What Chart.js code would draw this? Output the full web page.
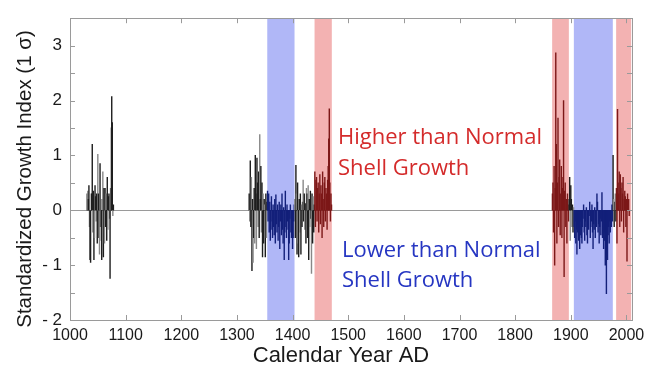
<!DOCTYPE html>
<html>
<head>
<meta charset="utf-8">
<script src="https://cdn.jsdelivr.net/npm/chart.js@4/dist/chart.umd.min.js"></script>
<style>
  html, body { margin: 0; padding: 0; background: #fff; }
  #wrap { width: 654px; height: 374px; }
</style>
</head>
<body>
<div id="wrap"><canvas id="c" width="654" height="374"></canvas></div>
<script>
// --- data (standardized growth index, one value per year) ---
const seg1Start = 1031;
const seg1Values = [0.3, 0.35, 0.2, 0.45, -0.3, -0.9, -0.95, 0.3, 0.3, 1.2, -0.4, 0.35, -0.9, -0.5, 0.45,
  0.25, -0.2, 0.3, -0.6, 1.02, 0.3, -0.5, -0.8, 0.85, -0.3, -0.55, -0.9, 0.2, 0.7, -0.85,
  0.4, -0.6, 0.4, -0.3, 0.3, -0.55, 0.6, -0.35, 0.25, 0.3, -0.15, -1.24, 0.4, 1.5, 2.07,
  1.6, -0.1, 0.1];

const seg2Start = 1322;
const seg2Values = [0.3, -0.2, 0.9, -0.3, 0.6, -1.1, 0.2, -0.95, -0.5, 0.4, -0.6, 1.0, 0.3, -0.7, 0.95,
  0.5, -0.3, 0.7, -0.5, 1.38, 0.2, 0.8, -0.4, 0.5, -0.85, 0.3, -0.6, 0.2, 0.1, -0.85,
  0.3, -0.5, 0.15,
  // 1355 - 1403
  0.35, -0.2, 0.3, -0.4, 0.15, -0.55, -0.2, 0.25, -0.35, -0.5, 0.1, -0.3, -0.45, 0.2, -0.6,
  0.28, -0.25, -0.4, 0.1, -0.55, -0.3, 0.15, -0.7, -0.2, 0.1, -0.45, 0.3, -0.35, -0.6, 0.05,
  -0.9, -0.4, 0.35, -0.3, -0.5, 0.1, -0.2, -0.35, -0.9, -0.6, -0.15, 0.1, -0.4, -0.5, -0.3,
  -0.7, -0.5, -0.2, 0.1,
  // 1404 - 1439
  0.2, -0.5, 0.82, 0.3, -0.8, 0.5, -0.6, -0.85, 0.2, -0.4, 0.3, -0.8, 0.1, -0.3, 0.15,
  0.55, -0.2, 0.3, -0.35, 0.12, -0.6, 0.4, 0.3, -0.5, 0.45, -0.9, 0.2, -0.3, 0.35, -0.15,
  -1.15, 0.3, -0.6, 0.25, -0.4, 0.1,
  // 1440 - 1470
  0.7, -0.3, 0.55, 0.6, -0.2, 0.4, 0.5, -0.4, 0.3, 0.65, -0.25, 0.45, 0.3, -0.5, 0.7,
  0.2, -0.3, 0.5, 0.6, -0.2, 0.4, 0.3, -0.35, 0.55, 0.8, 1.3, 1.85, 0.5, -0.2, 0.3, 0.1];

const seg3Start = 1867;
const seg3Values = [0.3, 0.5, -0.4, 0.8, -1.0, 0.4, 2.87, 1.2, -0.6, 0.5, 1.68, -0.3, 0.6, 0.92, -0.45,
  0.3, 0.8, -0.5, 0.4, 0.6, 2.0, -1.21, 0.35, 0.5, -0.3, 0.2, -0.6, 0.3, 0.1, -0.2,
  // 1897 - 1905
  0.2, 0.6, -0.55, 0.45, 0.2, -0.3, 0.1, -0.4, 0.05,
  // 1906 - 1975
  -0.3, -0.5, -0.2, -0.6, -0.35, -0.8, -0.4, -0.25, -0.55, -0.3, -0.7, -0.45, -0.2, -0.5, -0.6,
  -0.3, -0.15, 0.1, -0.4, -0.55, -0.2, -0.3, 0.05, -0.45, -0.6, -0.25, -0.35, -0.1, 0.15, -0.5,
  -0.3, -0.2, 0.1, -0.4, -0.7, -0.25, -0.35, 0.05, -0.5, -0.2, -0.3, 0.3, 0.15, -0.4, -0.25,
  -0.6, -0.3, -0.15, -0.45, -0.2, 0.32, -0.5, -0.3, -0.7, -0.4, -0.55, -1.0, -0.8, -1.52, -0.6,
  -0.9, -0.45, -0.3, -0.6, -0.2, -0.4, -0.15, -0.3, 0.1, -0.2,
  // 1976 - 2005
  1.0, 0.2, -0.3, 0.15, 0.3, -0.2,
  0.4, -0.6, 1.84, 0.5, 0.3, 0.7, -0.3, 0.65, 0.4, -0.2, 0.5, 0.3, 0.6, -0.4, 0.2,
  0.35, 0.25, -0.3, 0.2, -0.93, 0.3, 0.1, 0.2, -0.1];

const blueBands = [[1355, 1403], [1906, 1975]];
const redBands = [[1440, 1470], [1867, 1896], [1982, 2008]];

const yearTicks = [1000, 1100, 1200, 1300, 1400, 1500, 1600, 1700, 1800, 1900, 2000];

// ------------------------------------------------------------------------------
const points = [];
[[seg1Start, seg1Values], [seg2Start, seg2Values], [seg3Start, seg3Values]].forEach(([start, vals]) => {
  vals.forEach((v, i) => points.push({ x: start + i, y: v }));
});

const inBand = (bands, yr) => bands.some(b => yr >= b[0] && yr <= b[1]);

function barColor(ctx) {
  const yr = ctx.raw ? ctx.raw.x : 0;
  if (inBand(blueBands, yr)) return '#13207a';
  if (inBand(redBands, yr)) return '#7c1818';
  return ctx.dataIndex % 3 === 1 ? '#888' : '#1e1e1e';
}

const FONT = "'Liberation Sans', Arial, Helvetica, sans-serif";

const decor = {
  id: 'decor',
  beforeDatasetsDraw(chart) {
    const { ctx, chartArea: a, scales: { x, y } } = chart;
    ctx.save();
    const band = (list, col) => list.forEach(([s, e]) => {
      const x0 = Math.max(a.left, x.getPixelForValue(s - 0.5));
      const x1 = Math.min(a.right, x.getPixelForValue(e + 0.5));
      ctx.fillStyle = col;
      ctx.fillRect(x0, a.top, x1 - x0, a.bottom - a.top);
    });
    band(blueBands, '#b0b7f7');
    band(redBands, '#f3b2b2');
    // zero line
    const y0 = Math.round(y.getPixelForValue(0)) + 0.5;
    ctx.strokeStyle = '#9a9a9a';
    ctx.lineWidth = 1;
    ctx.beginPath();
    ctx.moveTo(a.left, y0);
    ctx.lineTo(a.right, y0);
    ctx.stroke();
    ctx.restore();
  },
  afterDatasetsDraw(chart) {
    const { ctx, chartArea: a, scales: { x, y } } = chart;
    ctx.save();
    ctx.strokeStyle = '#9a9a9a';
    ctx.lineWidth = 1;
    ctx.strokeRect(Math.round(a.left) + 0.5, Math.round(a.top) + 0.5,
      Math.round(a.right - a.left), Math.round(a.bottom - a.top));
    // inward tick marks
    ctx.beginPath();
    yearTicks.forEach(v => {
      const px = Math.round(x.getPixelForValue(v)) + 0.5;
      ctx.moveTo(px, a.bottom); ctx.lineTo(px, a.bottom - 5);
      ctx.moveTo(px, a.top); ctx.lineTo(px, a.top + 5);
    });
    y.ticks.forEach(t => {
      const py = Math.round(y.getPixelForValue(t.value)) + 0.5;
      ctx.moveTo(a.left, py); ctx.lineTo(a.left + 5, py);
      ctx.moveTo(a.right, py); ctx.lineTo(a.right - 5, py);
    });
    ctx.stroke();

    // annotations
    ctx.font = "22px 'Open Sans', 'Noto Sans', sans-serif";
    ctx.textAlign = 'left';
    ctx.textBaseline = 'alphabetic';
    ctx.fillStyle = '#d42b2b';
    ctx.fillText('Higher than Normal', 338, 144);
    ctx.fillText('Shell Growth', 338, 175);
    ctx.fillStyle = '#2636c2';
    ctx.fillText('Lower than Normal', 342, 257);
    ctx.fillText('Shell Growth', 342, 287);

    // axis titles
    ctx.fillStyle = '#1a1a1a';
    ctx.textAlign = 'center';
    ctx.textBaseline = 'middle';
    ctx.font = '22px ' + FONT;
    ctx.fillText('Calendar Year AD', 341, 356);
    ctx.translate(25, 179);
    ctx.rotate(-Math.PI / 2);
    ctx.font = '20.5px ' + FONT;
    ctx.fillText('Standardized Growth Index (1 σ)', 0, 0);
    ctx.restore();
  }
};

new Chart(document.getElementById('c'), {
  type: 'bar',
  data: {
    datasets: [{
      data: points,
      backgroundColor: barColor,
      borderWidth: 0,
      barThickness: 0.75,
      grouped: false
    }]
  },
  options: {
    responsive: false,
    devicePixelRatio: 1,
    animation: false,
    layout: { padding: { top: 9, right: 22, left: 0, bottom: 0 } },
    plugins: { legend: { display: false }, tooltip: { enabled: false } },
    scales: {
      x: {
        type: 'linear',
        offset: false,
        min: 1000,
        max: 2010,
        grid: { display: false, drawTicks: false, offset: false },
        border: { display: false },
        afterFit: s => { s.height = 54; },
        afterBuildTicks: s => { s.ticks = yearTicks.map(v => ({ value: v })); },
        ticks: {
          padding: 6,
          color: '#1a1a1a',
          font: { family: FONT, size: 16 },
          maxRotation: 0,
          autoSkip: false,
          callback: v => String(v)
        }
      },
      y: {
        min: -2,
        max: 3.5,
        grid: { display: false, drawTicks: false },
        border: { display: false },
        afterFit: s => { s.width = 70; },
        ticks: {
          stepSize: 0.5,
          padding: 8,
          color: '#1a1a1a',
          font: { family: FONT, size: 17 },
          autoSkip: false,
          callback: v => {
            if (!Number.isInteger(v)) return '';
            return v < 0 ? '- ' + Math.abs(v) : String(v);
          }
        }
      }
    }
  },
  plugins: [decor]
});
</script>
</body>
</html>
